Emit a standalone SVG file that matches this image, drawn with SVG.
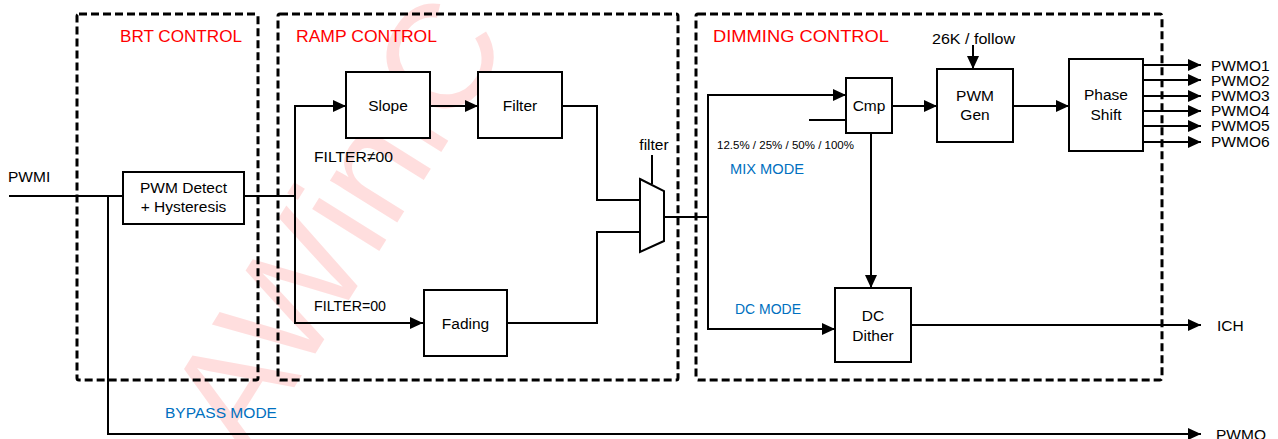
<svg xmlns="http://www.w3.org/2000/svg" width="1278" height="439" viewBox="0 0 1278 439">
<style>
text{font-family:"Liberation Sans",Arial,sans-serif;fill:#000}
.lbl{font-size:15.5px}
.mid{text-anchor:middle}
.red{fill:#FF0000;font-size:16.5px}
.blue{fill:#0070C0;font-size:15px}
.small{font-size:11.5px}
.box{fill:#fff;stroke:#000;stroke-width:2}
.grp{fill:none;stroke:#000;stroke-width:3;stroke-dasharray:8 4}
.wire{fill:none;stroke:#000;stroke-width:2}
.wm{font-size:150px;fill:#FF0000;fill-opacity:0.13}
</style>
<defs>
<marker id="arr" markerUnits="userSpaceOnUse" markerWidth="14" markerHeight="12" refX="13" refY="6" orient="auto">
<path d="M0,0 L13,6 L0,12 z" fill="#000"/>
</marker>
</defs>
<rect width="1278" height="439" fill="#fff"/>
<g id="watermark">
<text class="wm mid" x="0" y="53" transform="translate(335,222) rotate(-58)">AWiniC</text>
</g>
<g id="groups">
<rect class="grp" x="77" y="14" width="181" height="366" rx="2"/>
<rect class="grp" x="278" y="14" width="400" height="366" rx="2"/>
<rect class="grp" x="696" y="14" width="466" height="366" rx="2"/>
<text class="red" x="120" y="42" textLength="122" lengthAdjust="spacingAndGlyphs">BRT CONTROL</text>
<text class="red" x="296" y="42" textLength="141" lengthAdjust="spacingAndGlyphs">RAMP CONTROL</text>
<text class="red" x="713" y="42" textLength="176" lengthAdjust="spacingAndGlyphs">DIMMING CONTROL</text>
</g>
<g id="connectors">
<path class="wire" d="M9,196 H123"/>
<path class="wire" d="M108,196 V434 H1201" marker-end="url(#arr)"/>
<path class="wire" d="M244,196 H295"/>
<path class="wire" d="M295,196 V106 H346" marker-end="url(#arr)"/>
<path class="wire" d="M295,196 V323 H423" marker-end="url(#arr)"/>
<path class="wire" d="M430,106 H478" marker-end="url(#arr)"/>
<path class="wire" d="M562,106 H597 V200 H640"/>
<path class="wire" d="M507,323 H597 V232 H640"/>
<path class="wire" d="M652,155 V184"/>
<path class="wire" d="M664,217 H708"/>
<path class="wire" d="M708,217 V95 H846" marker-end="url(#arr)"/>
<path class="wire" d="M708,217 V329 H835" marker-end="url(#arr)"/>
<path class="wire" d="M809,120 H846"/>
<path class="wire" d="M892,106 H937" marker-end="url(#arr)"/>
<path class="wire" d="M973,45 V69" marker-end="url(#arr)"/>
<path class="wire" d="M1013,106 H1069" marker-end="url(#arr)"/>
<path class="wire" d="M871,133 V288" marker-end="url(#arr)"/>
<path class="wire" d="M1143,65 H1201" marker-end="url(#arr)"/>
<path class="wire" d="M1143,80 H1201" marker-end="url(#arr)"/>
<path class="wire" d="M1143,96 H1201" marker-end="url(#arr)"/>
<path class="wire" d="M1143,111 H1201" marker-end="url(#arr)"/>
<path class="wire" d="M1143,126 H1201" marker-end="url(#arr)"/>
<path class="wire" d="M1143,142 H1201" marker-end="url(#arr)"/>
<path class="wire" d="M911,325 H1201" marker-end="url(#arr)"/>
</g>
<g id="pwm-detect">
<rect class="box" x="123" y="172" width="121" height="52"/>
<text class="lbl mid" x="183.5" y="193">PWM Detect</text>
<text class="lbl mid" x="183.5" y="212">+ Hysteresis</text>
</g>
<g id="slope">
<rect class="box" x="346" y="72" width="84" height="66"/>
<text class="lbl mid" x="388" y="111">Slope</text>
</g>
<g id="filter">
<rect class="box" x="478" y="72" width="84" height="66"/>
<text class="lbl mid" x="520" y="111">Filter</text>
</g>
<g id="fading">
<rect class="box" x="424" y="290" width="83" height="66"/>
<text class="lbl mid" x="465.5" y="329">Fading</text>
</g>
<g id="mux">
<path class="box" d="M640,179 L664,191 V241 L640,252 z"/>
<text class="lbl mid" x="654" y="150">filter</text>
</g>
<g id="cmp">
<rect class="box" x="846" y="78" width="46" height="55"/>
<text class="lbl mid" x="869" y="111">Cmp</text>
</g>
<g id="pwm-gen">
<rect class="box" x="937" y="69" width="76" height="73"/>
<text class="lbl mid" x="975" y="101">PWM</text>
<text class="lbl mid" x="975" y="120">Gen</text>
</g>
<g id="phase-shift">
<rect class="box" x="1069" y="59" width="74" height="92"/>
<text class="lbl mid" x="1106" y="100">Phase</text>
<text class="lbl mid" x="1106" y="120">Shift</text>
</g>
<g id="dc-dither">
<rect class="box" x="835" y="288" width="76" height="74"/>
<text class="lbl mid" x="873" y="321">DC</text>
<text class="lbl mid" x="873" y="341">Dither</text>
</g>
<g id="labels">
<text class="lbl" x="8" y="182">PWMI</text>
<text class="lbl" x="314" y="162" textLength="79" lengthAdjust="spacingAndGlyphs">FILTER≠00</text>
<text class="lbl" x="314" y="311" textLength="72" lengthAdjust="spacingAndGlyphs">FILTER=00</text>
<text class="small" x="717" y="149" textLength="137" lengthAdjust="spacingAndGlyphs">12.5% / 25% / 50% / 100%</text>
<text class="blue" x="730" y="174" textLength="74" lengthAdjust="spacingAndGlyphs">MIX MODE</text>
<text class="blue" x="735" y="314" textLength="66" lengthAdjust="spacingAndGlyphs">DC MODE</text>
<text class="blue" x="165" y="418" textLength="112" lengthAdjust="spacingAndGlyphs">BYPASS MODE</text>
<text class="lbl" x="932" y="44" textLength="83" lengthAdjust="spacingAndGlyphs">26K / follow</text>
<text class="lbl" x="1211" y="71">PWMO1</text>
<text class="lbl" x="1211" y="86">PWMO2</text>
<text class="lbl" x="1211" y="101">PWMO3</text>
<text class="lbl" x="1211" y="116">PWMO4</text>
<text class="lbl" x="1211" y="131">PWMO5</text>
<text class="lbl" x="1211" y="147">PWMO6</text>
<text class="lbl" x="1217" y="331">ICH</text>
<text class="lbl" x="1216" y="440">PWMO</text>
</g>
</svg>
